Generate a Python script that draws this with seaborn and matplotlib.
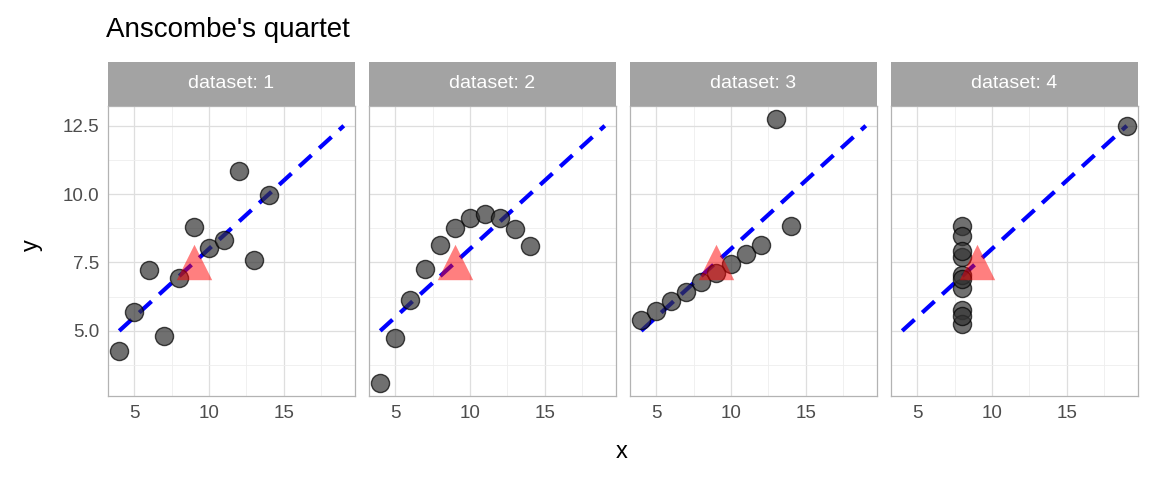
import matplotlib
matplotlib.use("Agg")
import matplotlib.pyplot as plt
import seaborn as sns
import numpy as np
import pandas as pd

x123 = [10, 8, 13, 9, 11, 14, 6, 4, 12, 7, 5]
y1 = [8.04, 6.95, 7.58, 8.81, 8.33, 9.96, 7.24, 4.26, 10.84, 4.82, 5.68]
y2 = [9.14, 8.14, 8.74, 8.77, 9.26, 8.10, 6.13, 3.10, 9.13, 7.26, 4.74]
y3 = [7.46, 6.77, 12.74, 7.11, 7.81, 8.84, 6.08, 5.39, 8.15, 6.42, 5.73]
x4 = [8, 8, 8, 8, 8, 8, 8, 19, 8, 8, 8]
y4 = [6.58, 5.76, 7.71, 8.84, 8.47, 7.04, 5.25, 12.50, 5.56, 7.91, 6.89]
datasets = ["1", "2", "3", "4"]
xs = [x123, x123, x123, x4]
ys = [y1, y2, y3, y4]
line_x = [4, 19]
intercept, slope = 3.0, 0.5
mean_x, mean_y = 9.0, 7.5

df = pd.concat([pd.DataFrame({"x": xx, "y": yy, "dataset": d}) for d, xx, yy in zip(datasets, xs, ys)])

sns.set_style("white")
plt.rcParams['font.family'] = ['Liberation Sans', 'DejaVu Sans']
fig = plt.figure(figsize=(11.52, 4.8), dpi=100)
W, H = 1152, 480
lefts = [108, 369, 630, 891]
pw = 247
top_strip, strip_h, bottom = 62, 44, 396
axes = []
for i, d in enumerate(datasets):
    ax = fig.add_axes([lefts[i] / W, 1 - bottom / H, pw / W, (bottom - top_strip - strip_h) / H],
                      sharey=axes[0] if axes else None)
    axes.append(ax)
    sub = df[df.dataset == d]
    ax.set_xlim(3.25, 19.75)
    ax.set_ylim(2.618, 13.222)
    ax.set_xticks([5, 10, 15])
    ax.set_xticks([7.5, 12.5, 17.5], minor=True)
    ax.set_yticks([5, 7.5, 10, 12.5])
    ax.set_yticks([3.75, 6.25, 8.75, 11.25], minor=True)
    ax.grid(True, which="major", color="#DEDEDE", lw=0.9)
    ax.grid(True, which="minor", color="#EEEEEE", lw=0.6)
    ax.set_axisbelow(True)
    lx = np.array(line_x)
    ax.plot(lx, intercept + slope * lx, color="blue", ls=(0, (4, 2.5)), lw=3, zorder=2)
    sns.scatterplot(data=sub, x="x", y="y", ax=ax, s=170, color="#333333", alpha=0.7,
                    edgecolor="black", linewidth=1, zorder=3)
    ax.scatter([mean_x], [mean_y], marker="^", s=650, color="red", alpha=0.5, lw=0, zorder=4)
    for sp in ax.spines.values():
        sp.set_color("#B3B3B3")
        sp.set_linewidth(0.9)
    ax.tick_params(axis="both", which="major", length=3, color="#B3B3B3", labelsize=13.5,
                   labelcolor="#4D4D4D")
    ax.tick_params(which="minor", length=0)
    ax.set_xlabel("")
    ax.set_ylabel("")
    if i > 0:
        ax.tick_params(axis="y", labelleft=False, length=0)
    sax = fig.add_axes([lefts[i] / W, 1 - (top_strip + strip_h) / H, pw / W, strip_h / H])
    sax.set_facecolor("#A3A3A3")
    sax.set_xticks([]); sax.set_yticks([])
    for sp in sax.spines.values():
        sp.set_visible(False)
    sax.text(0.5, 0.5, f"dataset: {d}", color="white", fontsize=14, ha="center", va="center",
             transform=sax.transAxes)

fig.text(106 / W, 1 - 30 / H, "Anscombe's quartet", fontsize=20, va="center", ha="left", color="black")
fig.text(622 / W, 1 - 452 / H, "x", fontsize=17, ha="center", va="center", color="black")
fig.text(32 / W, 1 - 245 / H, "y", fontsize=17, ha="center", va="center", rotation=90, color="black")
fig.savefig("out.png", dpi=100)
